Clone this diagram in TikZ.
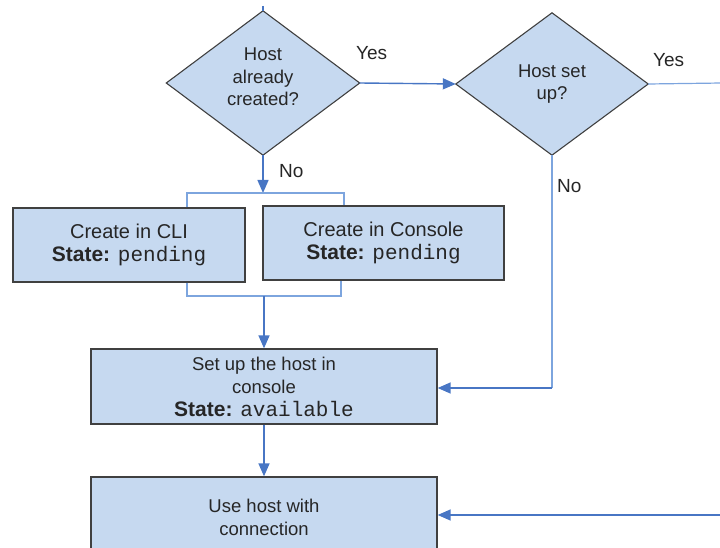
\documentclass[tikz,border=0pt]{standalone}
\usepackage{fontspec}
\setmainfont{Liberation Sans}
\setmonofont{Liberation Mono}
\usetikzlibrary{arrows.meta}
\definecolor{boxfill}{RGB}{198,217,240}
\definecolor{boxline}{RGB}{64,64,64}
\definecolor{arrowblue}{RGB}{72,118,196}
\definecolor{lightblue}{RGB}{125,165,222}
\newcommand{\stateline}[1]{{\fontsize{21}{23}\selectfont\textbf{State:} \texttt{#1}}}
\tikzset{
  procbox/.style={rectangle, draw=boxline, line width=1.3pt, fill=boxfill, inner sep=0pt, align=center},
  diamhold/.style={rectangle, inner sep=0pt},
  diamshape/.style={draw=boxline, line width=1.1pt, fill=boxfill},
  flow/.style={draw=arrowblue, line width=1.4pt, -{Triangle[length=13pt,width=11pt]}},
  plain/.style={draw=arrowblue, line width=1.4pt},
  bracket/.style={draw=lightblue, line width=1.2pt},
  lbl/.style={anchor=base west, inner sep=0pt, font=\fontsize{19}{22}\selectfont, text=black!85},
  dtext/.style={align=center, inner sep=0pt, font=\fontsize{18.5}{22.5}\selectfont, text=black!85},
  btext/.style={font=\fontsize{20}{23}\selectfont, text=black!85},
  stext/.style={font=\fontsize{18.5}{23}\selectfont, text=black!85}
}
\begin{document}
\begin{tikzpicture}[x=1pt,y=-1pt]
\useasboundingbox (0,0) rectangle (720,548);
% diamonds
\node[diamhold, minimum width=193pt, minimum height=144pt] (d1) at (263,83) {};
\path[diamshape] (d1.north) -- (d1.east) -- (d1.south) -- (d1.west) -- cycle;
\node[dtext] (d1t) at (263,77) {Host\\already\\created?};
\node[diamhold, minimum width=192pt, minimum height=142pt] (d2) at (552,84) {};
\path[diamshape] (d2.north) -- (d2.east) -- (d2.south) -- (d2.west) -- cycle;
\node[dtext] (d2t) at (552,84) {Host set\\up?};
% boxes
\node[procbox, minimum width=232pt, minimum height=74pt, btext] (cli) at (129,245)
  {Create in CLI\\\stateline{pending}};
\node[procbox, minimum width=241pt, minimum height=74pt, btext] (con) at (383.5,243)
  {Create in Console\\\stateline{pending}};
\node[procbox, minimum width=346pt, minimum height=75pt, stext] (setup) at (264,386.5)
  {Set up the host in\\console\\\stateline{available}};
\node[procbox, minimum width=346pt, minimum height=80pt, stext] (use) at (264,517)
  {Use host with\\connection};
% coordinates
\coordinate (topin) at (263,6);
\coordinate (split) at (263,193);
\coordinate (bl) at (187,193);
\coordinate (br) at (344,193);
\coordinate (ml) at (187,296);
\coordinate (mr) at (341,296);
\coordinate (merge) at (264,296);
\coordinate (yesout) at (722,83);
\coordinate (nocorner) at (552,388);
\coordinate (usein) at (722,515);
% connectors
\draw[plain] (topin) -- (d1.north);
\draw[flow] (d1.east) -- (d2.west);
\draw[flow] (d1.south) -- (split);
\draw[bracket] (bl |- cli.north) -- (bl) -- (br) -- (br |- con.north);
\draw[bracket] (ml |- cli.south) -- (ml) -- (mr) -- (mr |- con.south);
\draw[flow] (merge) -- (setup.north);
\draw[bracket] (d2.east) -- (yesout);
\draw[bracket] (d2.south) -- (nocorner);
\draw[flow] (nocorner) -- (nocorner -| setup.east);
\draw[flow] (setup.south) -- (use.north);
\draw[flow] (usein) -- (usein -| use.east);
% labels
\node[lbl] (yes1) at (356,60) {Yes};
\node[lbl] (yes2) at (653,67) {Yes};
\node[lbl] (no1) at (279,178) {No};
\node[lbl] (no2) at (557,193) {No};
\end{tikzpicture}
\end{document}
